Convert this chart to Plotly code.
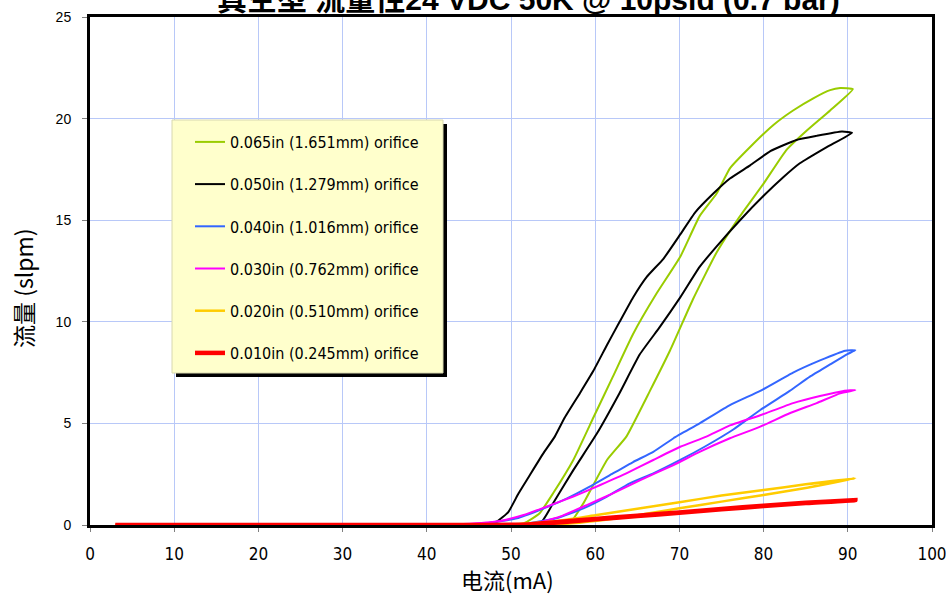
import plotly.graph_objects as go

# ---------------- data ----------------
names = [
    "0.065in (1.651mm) orifice",
    "0.050in (1.279mm) orifice",
    "0.040in (1.016mm) orifice",
    "0.030in (0.762mm) orifice",
    "0.020in (0.510mm) orifice",
    "0.010in (0.245mm) orifice",
]
colors = ["#99CC00", "#000000", "#3366FF", "#FF00FF", "#FFCC00", "#FF0000"]
widths = [2, 2, 2, 2, 2.5, 4.5]

green_x = [3, 40, 51.5, 53.4, 55.0, 57.0, 58.6, 61.4, 63.7, 66.5, 68.9, 71.6, 74.4, 77.2, 80.0, 82.7, 85.1, 87.9, 90.6,
           89.1, 87.9, 85.9, 83.5, 81.2, 78.4, 76.0, 74.4, 72.4, 70.1, 67.3, 64.5, 62.1, 59.8, 57.4, 55.0, 53.4, 51.5, 40, 3]
green_y = [0, 0, 0.0, 0.0, 0.02, 0.1, 1.07, 3.2, 4.35, 6.6, 8.6, 11.1, 13.4, 15.2, 16.8, 18.45, 19.4, 20.4, 21.45,
           21.5, 21.4, 21.0, 20.4, 19.7, 18.6, 17.55, 16.3, 15.2, 13.2, 11.4, 9.4, 7.3, 5.3, 3.2, 1.56, 0.58, 0.08, 0, 0]

black_x = [3, 40, 53.4, 55.0, 57.4, 60.2, 62.9, 65.3, 67.7, 70.1, 72.4, 74.4, 77.2, 80.0, 82.3, 84.3, 87.5, 90.5,
           89.3, 86.3, 83.9, 80.8, 78.4, 76.0, 74.0, 71.9, 70.1, 68.1, 66.1, 64.5, 62.9, 61.4, 59.8, 58.2, 56.4, 55.2,
           53.8, 52.3, 50.9, 49.7, 48.3, 46.3, 40, 3]
black_y = [0, 0, 0.05, 1.07, 2.7, 4.5, 6.5, 8.4, 9.76, 11.2, 12.7, 13.7, 15.0, 16.2, 17.1, 17.8, 18.6, 19.3,
           19.36, 19.15, 18.95, 18.4, 17.7, 17.05, 16.3, 15.4, 14.3, 13.1, 12.2, 11.2, 10.0, 8.86, 7.6, 6.5, 5.3, 4.35,
           3.5, 2.5, 1.56, 0.65, 0.16, 0.05, 0, 0]

blue_x = [3, 40, 51.5, 55.4, 58.6, 61.4, 64.1, 66.9, 70.1, 73.2, 76.4, 79.6, 83.1, 85.5, 87.9, 89.9, 90.9,
          89.7, 86.7, 83.5, 79.6, 76.0, 72.4, 69.3, 66.9, 64.5, 62.1, 59.4, 56.6, 53.4, 50.7, 47.5, 44, 3]
blue_y = [0, 0, 0.05, 0.33, 0.82, 1.4, 2.05, 2.54, 3.2, 3.9, 4.7, 5.66, 6.6, 7.3, 7.9, 8.4, 8.6,
          8.58, 8.1, 7.5, 6.6, 5.9, 5.0, 4.27, 3.6, 3.1, 2.54, 1.9, 1.3, 0.74, 0.33, 0.11, 0.01, 0]

magenta_x = [3, 40, 52.6, 55.8, 59.0, 62.1, 65.3, 69.3, 72.4, 76.0, 79.6, 83.1, 86.3, 89.1, 90.9,
             89.5, 86.7, 83.5, 79.6, 76.0, 73.2, 70.1, 66.9, 63.7, 60.6, 57.4, 54.2, 51.5, 48.7, 44.3, 40, 3]
magenta_y = [0, 0, 0.05, 0.41, 0.98, 1.56, 2.2, 2.95, 3.6, 4.27, 4.84, 5.5, 6.0, 6.48, 6.64,
             6.6, 6.35, 6.0, 5.4, 4.9, 4.35, 3.85, 3.2, 2.54, 1.97, 1.4, 0.9, 0.49, 0.2, 0.05, 0, 0]

yellow_x = [3, 45, 55, 60, 65, 70, 75, 80, 85, 90.9,
            85, 80, 75, 70, 65, 60, 55, 50, 45, 3]
yellow_y = [0, 0, 0.02, 0.2, 0.48, 0.82, 1.15, 1.48, 1.82, 2.3,
            2.0, 1.72, 1.45, 1.12, 0.8, 0.48, 0.17, 0.03, 0, 0]

red_x = [3, 45, 52, 56, 60, 65, 70, 75, 80, 85, 90.9,
         85, 80, 75, 70, 65, 60, 56, 52, 45, 3]
red_y = [0, 0, 0.02, 0.14, 0.28, 0.44, 0.6, 0.77, 0.93, 1.08, 1.22,
         1.1, 0.95, 0.79, 0.62, 0.46, 0.3, 0.16, 0.03, 0, 0]

series_x = [green_x, black_x, blue_x, magenta_x, yellow_x, red_x]
series_y = [green_y, black_y, blue_y, magenta_y, yellow_y, red_y]

x_ticks = [0, 10, 20, 30, 40, 50, 60, 70, 80, 90, 100]
y_ticks = [0, 5, 10, 15, 20, 25]

title_text = "真空型 流量性24 VDC 50K @ 10psid (0.7 bar)"
x_title = "电流(mA)"
y_title = "流量 (slpm)"

# ---------------- figure ----------------
W, H = 946, 594
L, R, T, B = 90, 14, 17, 69
pw, ph = W - L - R, H - T - B


def px2paper_x(px):
    return (px - L) / pw


def px2paper_y(py):
    return (H - B - py) / ph


cond = "Liberation Sans Narrow, DejaVu Sans Condensed, Arial Narrow, sans-serif"
cjk = "Noto Sans CJK SC, sans-serif"

fig = go.Figure()
for i in range(len(names)):
    fig.add_trace(go.Scatter(
        x=series_x[i], y=series_y[i], mode="lines", name=names[i],
        legendgroup=f"g{i}",
        line=dict(color=colors[i], width=widths[i], shape="spline", smoothing=0.4),
    ))

# legend box with shadow
fig.add_shape(type="rect", xref="paper", yref="paper",
              x0=px2paper_x(176), x1=px2paper_x(447), y0=px2paper_y(377), y1=px2paper_y(124),
              fillcolor="#000000", line=dict(width=0), layer="above")
fig.add_shape(type="rect", xref="paper", yref="paper",
              x0=px2paper_x(172), x1=px2paper_x(443), y0=px2paper_y(373), y1=px2paper_y(120),
              fillcolor="#FFFFCC", line=dict(color="#D8D8B0", width=1), layer="above")

# title (partly above the page, as in the original)
fig.add_annotation(text="<b>" + title_text + "</b>", xref="paper", yref="paper",
                   x=px2paper_x(215), y=px2paper_y(18), xanchor="left", yanchor="bottom",
                   showarrow=False,
                   font=dict(family="Liberation Sans, Arial, Noto Sans CJK SC, sans-serif", size=30,
                             color="#000000"))

# axis titles
fig.add_annotation(text=y_title, xref="paper", yref="paper",
                   x=px2paper_x(23), y=px2paper_y(288), xanchor="center", yanchor="middle",
                   textangle=-90, showarrow=False,
                   font=dict(family=cjk, size=23, color="#000000"))
fig.add_annotation(text=x_title, xref="paper", yref="paper",
                   x=px2paper_x(507), y=px2paper_y(579), xanchor="center", yanchor="middle",
                   showarrow=False,
                   font=dict(family=cjk, size=22, color="#000000"))

fig.update_layout(
    width=W, height=H,
    margin=dict(l=L, r=R, t=T, b=B, pad=0, autoexpand=False),
    paper_bgcolor="white", plot_bgcolor="white",
    showlegend=True,
    legend=dict(
        x=px2paper_x(190), y=px2paper_y(125), xanchor="left", yanchor="top",
        bgcolor="rgba(0,0,0,0)", borderwidth=0,
        font=dict(family=cond, size=16, color="#000000"),
        tracegroupgap=18.4, itemwidth=30,
    ),
    xaxis=dict(
        range=[0, 100], tickvals=x_ticks, ticktext=[str(v) for v in x_ticks],
        automargin=False, ticklabeloverflow="allow",
        showgrid=True, gridcolor="#B8C8F8", gridwidth=1, zeroline=False,
        showline=True, linecolor="#000000", linewidth=3, mirror=True,
        ticks="outside", ticklen=4, tickcolor="#808080", ticklabelstandoff=8,
        tickfont=dict(family=cond, size=17, color="#000000"),
    ),
    yaxis=dict(
        range=[0, 25], tickvals=y_ticks, ticktext=[str(v) for v in y_ticks],
        automargin=False,
        showgrid=True, gridcolor="#B8C8F8", gridwidth=1, zeroline=False,
        showline=True, linecolor="#000000", linewidth=3, mirror=True,
        ticks="outside", ticklen=5, tickcolor="#808080", ticklabelstandoff=8,
        tickfont=dict(family="Liberation Sans, Arial, sans-serif", size=14, color="#000000"),
    ),
)

fig.write_html("out.html", config={"displayModeBar": False},
               post_script="document.body.style.margin='0';document.body.style.overflow='hidden';")
